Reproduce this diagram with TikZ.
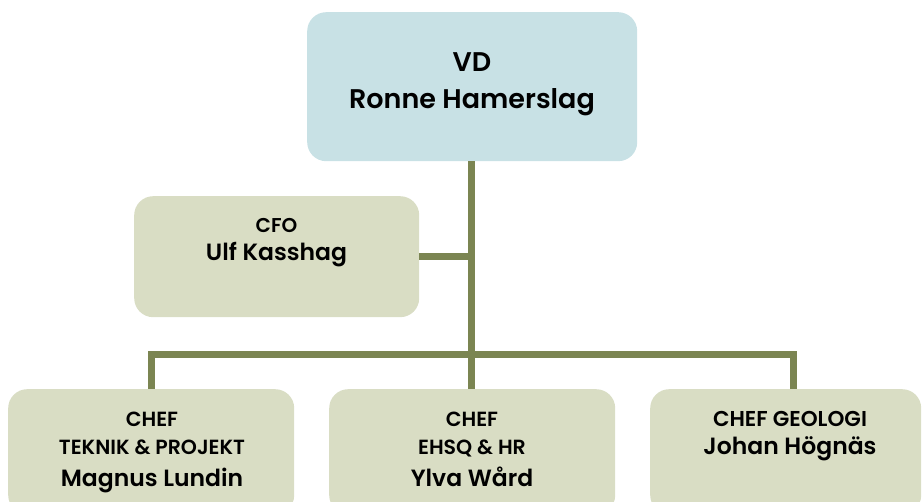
\documentclass[tikz,border=0pt]{standalone}
\usepackage{fontspec}
\setmainfont{Poppins}[UprightFont=* SemiBold, BoldFont=* Bold]
\definecolor{linegreen}{HTML}{7B8552}
\definecolor{boxgreen}{HTML}{D9DDC4}
\definecolor{boxblue}{HTML}{C8E1E5}
\begin{document}
\begin{tikzpicture}[x=1pt,y=-1pt,
  orgbox/.style={rectangle, rounded corners=19pt, inner sep=0pt, anchor=north west},
  conn/.style={draw=linegreen, line width=7pt},
  vdtext/.style={anchor=base, inner sep=0pt, font=\fontsize{27}{27}\selectfont},
  ptitle/.style={anchor=base, inner sep=0pt, font=\fontsize{20}{20}\selectfont},
  pname/.style={anchor=base, inner sep=0pt, font=\fontsize{23.5}{23.5}\selectfont},
  btitle/.style={anchor=base, inner sep=0pt, font=\fontsize{20.5}{20.5}\selectfont},
  bname/.style={anchor=base, inner sep=0pt, font=\fontsize{23.5}{23.5}\selectfont}]
\useasboundingbox (0,0) rectangle (923,502);
\clip (0,0) rectangle (923,502);
% boxes
\node[orgbox, fill=boxblue, minimum width=330pt, minimum height=149pt] (vd) at (307,12) {};
\node[orgbox, fill=boxgreen, minimum width=285pt, minimum height=121pt] (cfo) at (134,196) {};
\node[orgbox, fill=boxgreen, minimum width=286pt, minimum height=125pt] (b1) at (8,389) {};
\node[orgbox, fill=boxgreen, minimum width=286pt, minimum height=125pt] (b2) at (329,389) {};
\node[orgbox, fill=boxgreen, minimum width=271pt, minimum height=125pt] (b3) at (650,389) {};
% connectors
\coordinate (j) at (471.5,354);
\coordinate (d1) at (151.5,354);
\coordinate (d3) at (793,354);
\coordinate (jc) at (471.5,256.5);
\draw[conn] (vd.south -| j) -- (j);
\draw[conn] (cfo.east |- jc) -- (jc);
\draw[conn, line cap=rect] (d1) -- (d3);
\draw[conn] (d1) -- (b1.north -| d1);
\draw[conn] (j) -- (b2.north -| j);
\draw[conn] (d3) -- (b3.north -| d3);
% texts
\node[vdtext] (t1) at (472,72) {VD};
\node[vdtext] (t2) at (472,109) {Ronne Hamerslag};
\node[ptitle] (t3) at (276.5,233) {CFO};
\node[pname] (t4) at (276.5,261) {Ulf Kasshag};
\node[btitle] (t5) at (152,426) {CHEF};
\node[btitle] (t6) at (152,454) {TEKNIK \& PROJEKT};
\node[bname] (t7) at (152,486) {Magnus Lundin};
\node[btitle] (t8) at (472,426) {CHEF};
\node[btitle] (t9) at (472,454) {EHSQ \& HR};
\node[bname] (t10) at (472,486) {Ylva Wård};
\node[btitle, font=\fontsize{21.5}{21.5}\selectfont] (t11) at (790,426) {CHEF GEOLOGI};
\node[bname] (t12) at (790,454) {Johan Högnäs};
\end{tikzpicture}
\end{document}
